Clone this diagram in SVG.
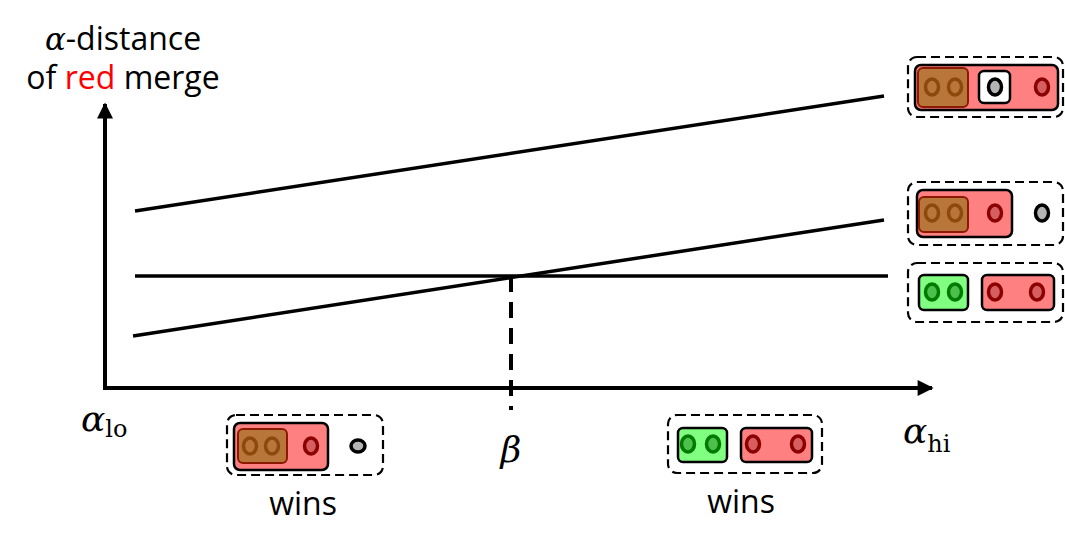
<svg xmlns="http://www.w3.org/2000/svg" width="1065" height="553" viewBox="0 0 1065 553">
<style>
.ax{stroke:#000;stroke-width:4;fill:none}
.ln{stroke:#000;stroke-width:3.5;fill:none}
.dash{stroke:#000;stroke-width:2.2;fill:none;stroke-dasharray:9 5}
.red{fill:#ff8080;stroke:#000;stroke-width:2.5}
.brown{fill:#b8763a;stroke:#8b1a00;stroke-width:2}
.green{fill:#80ff80;stroke:#000;stroke-width:2.5}
.white{fill:#fff;stroke:#000;stroke-width:2.5}
.cb{fill:#b8763a;stroke:#8b4a0c;stroke-width:3.5}
.cr{fill:#d65e5e;stroke:#8b0000;stroke-width:3.5}
.cg{fill:#4cbf4c;stroke:#007a00;stroke-width:3.5}
.cy{fill:#b4b4b4;stroke:#000;stroke-width:3.5}
.t{font-family:'Open Sans','Liberation Sans',sans-serif;font-size:32px;fill:#000}
.m{font-family:'DejaVu Serif','Liberation Serif',serif;font-style:italic;fill:#000}
.s{font-family:'DejaVu Serif','Liberation Serif',serif;fill:#000}
</style>
<defs>
<marker id="ah" viewBox="0 0 10 10" refX="9" refY="5" markerWidth="4.5" markerHeight="4" markerUnits="strokeWidth" orient="auto">
<path d="M0,0 L10,5 L0,10 z" fill="#000"/>
</marker>
</defs>
<rect width="1065" height="553" fill="#fff"/>
<g id="axes">
<line class="ax" x1="105" y1="388" x2="105" y2="104" marker-end="url(#ah)"/>
<line class="ax" x1="103" y1="388" x2="932" y2="388" marker-end="url(#ah)"/>
</g>
<g id="connectors">
<line class="ln" x1="135" y1="211" x2="884" y2="96"/>
<line class="ln" x1="133" y1="336" x2="884" y2="220"/>
<line class="ln" x1="135" y1="276" x2="888" y2="276"/>
<line class="ax" x1="511" y1="276" x2="511" y2="410" stroke-dasharray="16 10"/>
</g>
<g id="ylabel">
<text class="t" x="123" y="50" text-anchor="middle"><tspan class="m" font-size="31">α</tspan>-distance</text>
<text class="t" x="123" y="89" text-anchor="middle">of <tspan fill="#ff0000">red</tspan> merge</text>
</g>
<g id="alpha-lo"><text class="m" x="81" y="431" font-size="36">α<tspan class="s" font-style="normal" font-size="24" dy="6">lo</tspan></text></g>
<g id="beta"><text class="m" x="511" y="462" font-size="36" text-anchor="middle">β</text></g>
<g id="alpha-hi"><text class="m" x="903" y="443" font-size="36">α<tspan class="s" font-style="normal" font-size="24" dy="9">hi</tspan></text></g>
<g id="state1">
<rect class="dash" x="908" y="57" width="155" height="60" rx="9"/>
<rect class="red" x="915" y="65" width="143" height="45" rx="6"/>
<rect class="brown" x="918" y="68" width="50" height="39" rx="5"/>
<ellipse class="cb" cx="932" cy="87" rx="6.5" ry="8"/>
<ellipse class="cb" cx="955" cy="87" rx="6.5" ry="8"/>
<rect class="white" x="979" y="71" width="31" height="32" rx="5"/>
<ellipse class="cy" cx="995" cy="87" rx="6.5" ry="8"/>
<ellipse class="cr" cx="1042" cy="87" rx="6.5" ry="8"/>
</g>
<g id="state2">
<rect class="dash" x="908" y="182" width="155" height="63" rx="9"/>
<rect class="red" x="917" y="190" width="95" height="47" rx="6"/>
<rect class="brown" x="919" y="197" width="49" height="35" rx="5"/>
<ellipse class="cb" cx="932" cy="213" rx="6.5" ry="8"/>
<ellipse class="cb" cx="955" cy="213" rx="6.5" ry="8"/>
<ellipse class="cr" cx="995" cy="213" rx="6.5" ry="8"/>
<ellipse class="cy" cx="1042" cy="213" rx="6.5" ry="8"/>
</g>
<g id="state3">
<rect class="dash" x="908" y="263" width="155" height="59" rx="9"/>
<rect class="green" x="919" y="275" width="49" height="35" rx="5"/>
<ellipse class="cg" cx="932" cy="292" rx="6.5" ry="8"/>
<ellipse class="cg" cx="955" cy="292" rx="6.5" ry="8"/>
<rect class="red" x="982" y="275" width="72" height="35" rx="5"/>
<ellipse class="cr" cx="995" cy="292" rx="6.5" ry="8"/>
<ellipse class="cr" cx="1037" cy="292" rx="6.5" ry="8"/>
</g>
<g id="win-left">
<rect class="dash" x="227" y="415" width="156" height="60" rx="9"/>
<rect class="red" x="234" y="423" width="94" height="47" rx="6"/>
<rect class="brown" x="238" y="429" width="49" height="34" rx="5"/>
<ellipse class="cb" cx="250" cy="446" rx="6.5" ry="8"/>
<ellipse class="cb" cx="272" cy="446" rx="6.5" ry="8"/>
<ellipse class="cr" cx="311" cy="446" rx="6.5" ry="8"/>
<ellipse class="cy" cx="358" cy="446" rx="7" ry="6"/>
<text class="t" x="303" y="515" text-anchor="middle">wins</text>
</g>
<g id="win-right">
<rect class="dash" x="668" y="415" width="154" height="58" rx="9"/>
<rect class="green" x="678" y="428" width="49" height="34" rx="5"/>
<ellipse class="cg" cx="688" cy="444" rx="6.5" ry="8"/>
<ellipse class="cg" cx="713" cy="444" rx="6.5" ry="8"/>
<rect class="red" x="741" y="428" width="71" height="34" rx="5"/>
<ellipse class="cr" cx="753" cy="444" rx="6.5" ry="8"/>
<ellipse class="cr" cx="798" cy="444" rx="6.5" ry="8"/>
<text class="t" x="741" y="513" text-anchor="middle">wins</text>
</g>
</svg>
